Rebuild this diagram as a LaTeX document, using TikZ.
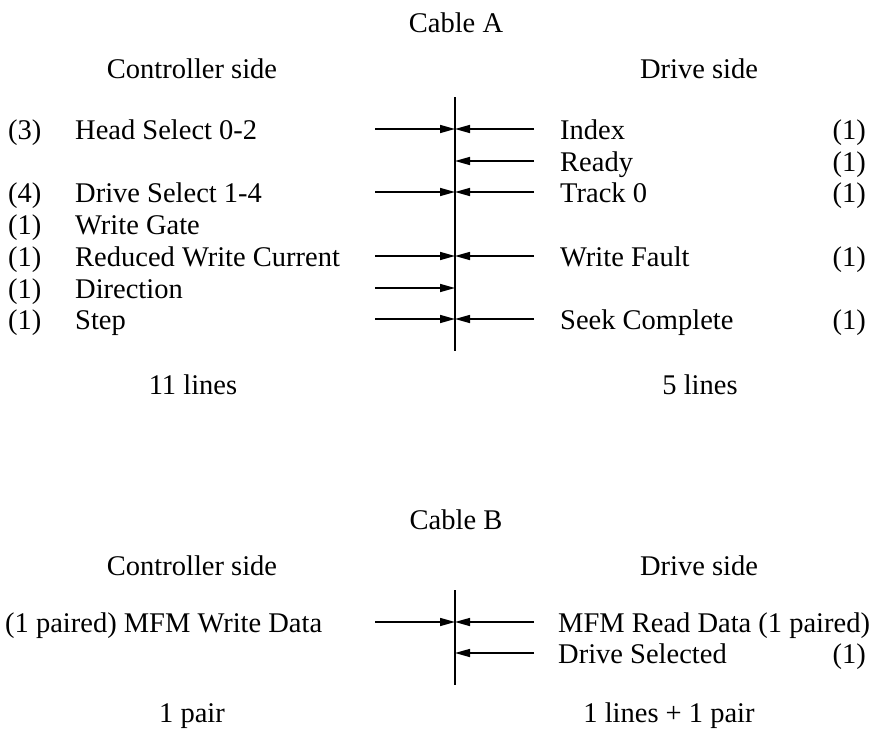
\documentclass[tikz,border=0pt]{standalone}
\usepackage{fontspec}
\setmainfont{Liberation Serif}
\usetikzlibrary{arrows.meta}
\begin{document}
\begin{tikzpicture}[x=1pt,y=-1pt,
  txtbase/.style={font=\fontsize{28.5}{34}\selectfont, inner sep=0pt},
  lbl/.style={txtbase, anchor=base west},
  ctr/.style={txtbase, anchor=base},
  cnt/.style={txtbase, anchor=base east},
  sig/.style={line width=1.5pt, -{Triangle[length=15pt,width=8pt]}},
  bus/.style={line width=1.5pt}]
\useasboundingbox (0,0) rectangle (884,734);

% ---------------- Cable A ----------------
\node[ctr] (ta) at (456,32) {Cable A};
\node[ctr] (ca) at (192,78) {Controller side};
\node[ctr] (da) at (699,78) {Drive side};

% bus A
\coordinate (atop) at (455,97);
\coordinate (abot) at (455,351);
\draw[bus] (atop) -- (abot);

% left labels
\node[lbl] (lc1) at (8,139) {(3)};
\node[lbl] (l1) at (75,139) {Head Select 0-2};
\node[lbl] (lc3) at (8,202) {(4)};
\node[lbl] (l3) at (75,202) {Drive Select 1-4};
\node[lbl] (lc4) at (8,234) {(1)};
\node[lbl] (l4) at (75,234) {Write Gate};
\node[lbl] (lc5) at (8,266) {(1)};
\node[lbl] (l5) at (75,266) {Reduced Write Current};
\node[lbl] (lc6) at (8,298) {(1)};
\node[lbl] (l6) at (75,298) {Direction};
\node[lbl] (lc7) at (8,329) {(1)};
\node[lbl] (l7) at (75,329) {Step};

% right labels
\node[lbl] (r1) at (560,139) {Index};
\node[cnt] (rc1) at (866,139) {(1)};
\node[lbl] (r2) at (560,171) {Ready};
\node[cnt] (rc2) at (866,171) {(1)};
\node[lbl] (r3) at (560,202) {Track 0};
\node[cnt] (rc3) at (866,202) {(1)};
\node[lbl] (r5) at (560,266) {Write Fault};
\node[cnt] (rc5) at (866,266) {(1)};
\node[lbl] (r7) at (560,329) {Seek Complete};
\node[cnt] (rc7) at (866,329) {(1)};

% arrow end points
\foreach \n/\y in {1/129,2/161,3/192,5/256,6/288,7/319}{
  \coordinate (aL\n) at (375,\y);
  \coordinate (aR\n) at (534,\y);
  \coordinate (aB\n) at (455,\y);
}
\foreach \n in {1,3,5,6,7}{ \draw[sig] (aL\n) -- (aB\n); }
\foreach \n in {1,2,3,5,7}{ \draw[sig] (aR\n) -- (aB\n); }

\node[ctr] (la) at (193,394) {11 lines};
\node[ctr] (ra) at (700,394) {5 lines};

% ---------------- Cable B ----------------
\node[ctr] (tb) at (456,529) {Cable B};
\node[ctr] (cb) at (192,575) {Controller side};
\node[ctr] (db) at (699,575) {Drive side};

\coordinate (btop) at (455,590);
\coordinate (bbot) at (455,685);
\draw[bus] (btop) -- (bbot);

\node[lbl] (bl1) at (5,632) {(1 paired) MFM Write Data};
\node[lbl] (br1) at (558,632) {MFM Read Data (1 paired)};
\node[lbl] (br2) at (558,663) {Drive Selected};
\node[cnt] (brc2) at (866,663) {(1)};

\coordinate (bL1) at (375,622);
\coordinate (bR1) at (534,622);
\coordinate (bB1) at (455,622);
\coordinate (bR2) at (534,653);
\coordinate (bB2) at (455,653);
\draw[sig] (bL1) -- (bB1);
\draw[sig] (bR1) -- (bB1);
\draw[sig] (bR2) -- (bB2);

\node[ctr] (lb) at (192,722) {1 pair};
\node[ctr] (rb) at (669,722) {1 lines + 1 pair};
\end{tikzpicture}
\end{document}
